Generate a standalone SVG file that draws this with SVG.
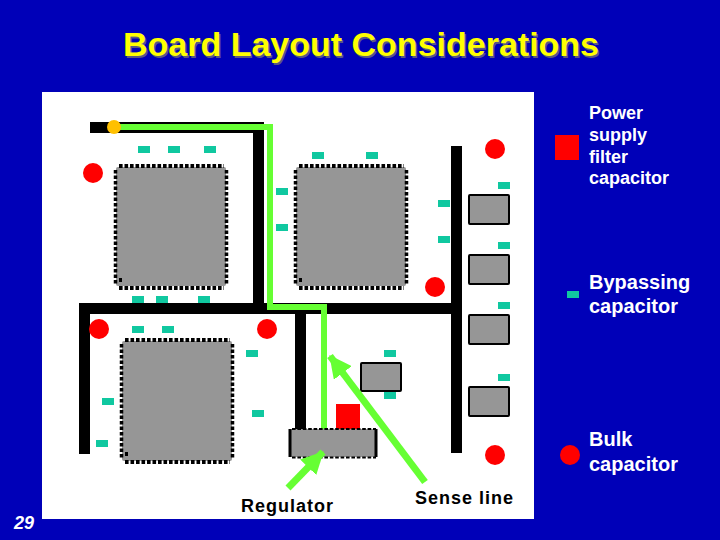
<svg xmlns="http://www.w3.org/2000/svg" width="720" height="540" viewBox="0 0 720 540">
<style>
.bus{fill:#000}
.chip{fill:#969696}
.pinh{stroke:#000;stroke-width:4;stroke-dasharray:3.6 1.9;fill:none}
.pinv{stroke:#000;stroke-width:3.500;stroke-dasharray:3.6 1.9;fill:none}
.small{fill:#969696;stroke:#000;stroke-width:2}
.cap{fill:#10c8a0}
.bulk{fill:#ff0000}
.sense{fill:none;stroke:#66ff33;stroke-width:6}
.ptr{fill:none;stroke:#66ff33;stroke-width:7}
.lab{font-family:"Liberation Sans",Arial,sans-serif;font-size:18px;font-weight:bold;fill:#fff}
.big{font-size:20px}
.dark{fill:#000;letter-spacing:1px}
</style>
<defs>
<marker id="ah" viewBox="0 0 10 10" refX="9.500" refY="5" markerWidth="3.200" markerHeight="3.200" orient="auto"><path d="M0 0L10 5L0 10Z" fill="#66ff33"/></marker>
</defs>
<rect width="720" height="540" fill="#0000b8"/>
<rect x="42" y="92" width="492" height="427" fill="#fff"/>
<g id="board-traces">
<rect class="bus" x="90" y="122" width="174" height="11"/>
<rect class="bus" x="253" y="125" width="11" height="185"/>
<rect class="bus" x="79" y="303" width="383" height="11"/>
<rect class="bus" x="79" y="303" width="11" height="151"/>
<rect class="bus" x="295" y="303" width="11" height="128"/>
<rect class="bus" x="451" y="146" width="11" height="307"/>
</g>
<g id="chip-1"><rect class="chip" x="116" y="167" width="110" height="119" rx="2"/><path class="pinh" d="M119 166H224M119 288H224"/><path class="pinv" d="M115.500 170V284M226.500 170V284"/><rect x="119" y="278" width="3" height="4"/></g>
<g id="chip-2"><rect class="chip" x="296" y="167" width="110" height="119" rx="2"/><path class="pinh" d="M299 166H404M299 288H404"/><path class="pinv" d="M295.500 170V284M406.500 170V284"/><rect x="299" y="278" width="3" height="4"/></g>
<g id="chip-3"><rect class="chip" x="122" y="341" width="110" height="120" rx="2"/><path class="pinh" d="M125 340H230M125 462H230"/><path class="pinv" d="M121.500 344V458M232.500 344V458"/><rect x="125" y="452" width="3" height="4"/></g>
<g id="ic-a"><rect class="small" x="361" y="363" width="40" height="28" rx="1"/></g>
<g id="ic-b"><rect class="small" x="469" y="195" width="40" height="29" rx="1"/></g>
<g id="ic-c"><rect class="small" x="469" y="255" width="40" height="29" rx="1"/></g>
<g id="ic-d"><rect class="small" x="469" y="315" width="40" height="29" rx="1"/></g>
<g id="ic-e"><rect class="small" x="469" y="387" width="40" height="29" rx="1"/></g>
<g id="filter-cap"><rect class="bulk" x="336" y="404" width="24" height="25"/></g>
<g id="bypass-caps">
<rect class="cap" x="138" y="146" width="12" height="7"/><rect class="cap" x="168" y="146" width="12" height="7"/><rect class="cap" x="204" y="146" width="12" height="7"/>
<rect class="cap" x="312" y="152" width="12" height="7"/><rect class="cap" x="366" y="152" width="12" height="7"/>
<rect class="cap" x="276" y="188" width="12" height="7"/><rect class="cap" x="276" y="224" width="12" height="7"/>
<rect class="cap" x="438" y="200" width="12" height="7"/><rect class="cap" x="438" y="236" width="12" height="7"/>
<rect class="cap" x="498" y="182" width="12" height="7"/><rect class="cap" x="498" y="242" width="12" height="7"/><rect class="cap" x="498" y="302" width="12" height="7"/><rect class="cap" x="498" y="374" width="12" height="7"/>
<rect class="cap" x="132" y="296" width="12" height="7"/><rect class="cap" x="156" y="296" width="12" height="7"/><rect class="cap" x="198" y="296" width="12" height="7"/>
<rect class="cap" x="132" y="326" width="12" height="7"/><rect class="cap" x="162" y="326" width="12" height="7"/>
<rect class="cap" x="246" y="350" width="12" height="7"/><rect class="cap" x="384" y="350" width="12" height="7"/><rect class="cap" x="384" y="392" width="12" height="7"/>
<rect class="cap" x="252" y="410" width="12" height="7"/><rect class="cap" x="102" y="398" width="12" height="7"/><rect class="cap" x="96" y="440" width="12" height="7"/>
</g>
<g id="bulk-caps">
<circle class="bulk" cx="93" cy="173" r="10"/><circle class="bulk" cx="495" cy="149" r="10"/><circle class="bulk" cx="435" cy="287" r="10"/><circle class="bulk" cx="99" cy="329" r="10"/><circle class="bulk" cx="267" cy="329" r="10"/><circle class="bulk" cx="495" cy="455" r="10"/>
</g>
<g id="connectors">
<path class="sense" d="M114 127H270V307H324V430"/>
</g>
<g id="regulator-chip"><rect class="chip" x="290" y="429" width="87" height="28"/><path d="M290 429V457M376 429V457" stroke="#000" stroke-width="3"/><path d="M292 429H376M292 457.500H376" stroke="#000" stroke-width="2" stroke-dasharray="3.600 1.800"/></g>
<g id="pointers">
<path class="ptr" d="M288 488L323 452" marker-end="url(#ah)"/>
<path class="ptr" d="M425 482L330 356" marker-end="url(#ah)"/>
</g>
<circle id="source-dot" cx="114" cy="127" r="7" fill="#ffc000"/>
<g id="legend">
<rect x="555" y="135" width="24" height="25" fill="#ff0000"/>
<rect class="cap" x="567" y="291" width="12" height="7"/>
<circle class="bulk" cx="570" cy="455" r="10"/>
<text class="lab" x="589" y="119">Power</text><text class="lab" x="589" y="141">supply</text><text class="lab" x="589" y="163">filter</text><text class="lab" x="589" y="184">capacitor</text>
<text class="lab big" x="589" y="289">Bypassing</text><text class="lab big" x="589" y="313">capacitor</text>
<text class="lab big" x="589" y="446">Bulk</text><text class="lab big" x="589" y="471">capacitor</text>
</g>
<text class="lab dark" x="241" y="512">Regulator</text>
<text class="lab dark" x="415" y="504">Sense line</text>
<text x="14" y="529" font-family="Liberation Sans,Arial,sans-serif" font-size="18" font-weight="bold" font-style="italic" fill="#fff">29</text>
<g font-family="Liberation Sans,Arial,sans-serif" font-size="34" font-weight="bold" text-anchor="middle">
<text x="362.500" y="57.500" fill="#5a5a80">Board Layout Considerations</text>
<text x="361" y="56" fill="#ffff00">Board Layout Considerations</text>
</g>
</svg>
